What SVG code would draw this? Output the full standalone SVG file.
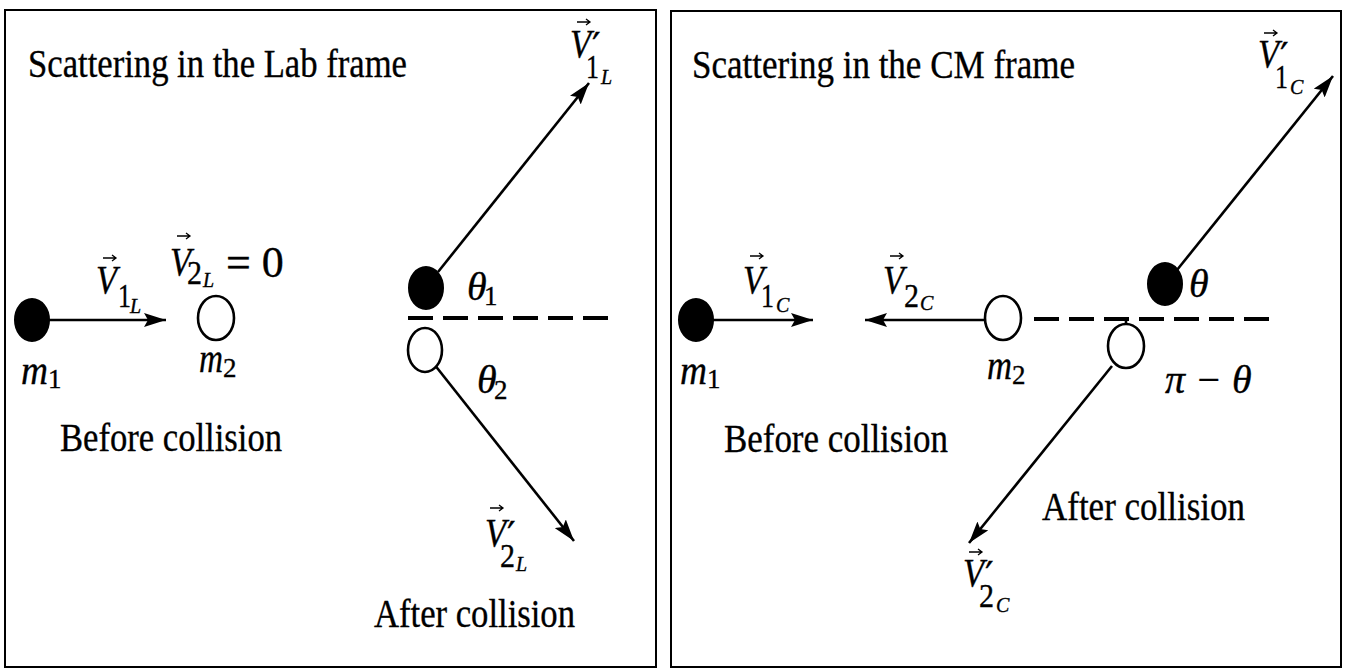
<svg xmlns="http://www.w3.org/2000/svg" width="1349" height="669" viewBox="0 0 1349 669" font-family="'Liberation Serif', 'DejaVu Serif', 'Times New Roman', serif">
<defs>
<marker id="ah" viewBox="0 0 22 14" refX="22" refY="7" markerWidth="22" markerHeight="14" markerUnits="userSpaceOnUse" orient="auto">
<path d="M0,0 L22,7 L0,14 L4,7 z" fill="#000"/>
</marker>
<style>
.frame{fill:none;stroke:#000;stroke-width:2}
text{font-family:'Liberation Serif','DejaVu Serif','Times New Roman',serif;fill:#000;stroke:#000;stroke-width:0.35}
.big{font-size:40px}
.mi{font-size:40px;font-style:italic}
.sb{font-size:34px}
.sm{font-size:27px}
.ss{font-size:20px;font-style:italic}
.pr{font-size:38px;font-family:'DejaVu Serif','Liberation Serif',serif}
.line{stroke:#000;stroke-width:2.6;fill:none}
.dash{stroke:#000;stroke-width:4;stroke-dasharray:25 10;fill:none}
.full{fill:#000;stroke:#000;stroke-width:2}
.open{fill:#fff;stroke:#000;stroke-width:2.6}
.vec{stroke:#000;stroke-width:1.3;fill:none}
</style>
</defs>
<rect width="1349" height="669" fill="#fff"/>

<g id="panel-lab">
<rect class="frame" x="5" y="10" width="651" height="657"/>
<text class="big" x="28" y="77" textLength="379" lengthAdjust="spacingAndGlyphs">Scattering in the Lab frame</text>
<text class="big" x="60" y="451" textLength="222" lengthAdjust="spacingAndGlyphs">Before collision</text>
<text class="big" x="374" y="627" textLength="201" lengthAdjust="spacingAndGlyphs">After collision</text>
</g>

<g id="panel-cm">
<rect class="frame" x="671" y="11" width="670" height="656"/>
<text class="big" x="692" y="78" textLength="383" lengthAdjust="spacingAndGlyphs">Scattering in the CM frame</text>
<text class="big" x="724" y="452" textLength="224" lengthAdjust="spacingAndGlyphs">Before collision</text>
<text class="big" x="1042" y="520" textLength="203" lengthAdjust="spacingAndGlyphs">After collision</text>
</g>

<g id="connectors">
<line class="line" x1="48" y1="320" x2="166" y2="320" marker-end="url(#ah)"/>
<line class="line" x1="438" y1="272" x2="589" y2="83" marker-end="url(#ah)"/>
<line class="line" x1="434" y1="364" x2="574" y2="541" marker-end="url(#ah)"/>
<line class="dash" x1="408" y1="318" x2="610" y2="318"/>
<line class="line" x1="712" y1="320" x2="813" y2="320" marker-end="url(#ah)"/>
<line class="line" x1="985" y1="320" x2="865" y2="320" marker-end="url(#ah)"/>
<line class="dash" x1="1034" y1="319" x2="1272" y2="319"/>
<line class="line" x1="1126" y1="319" x2="1126" y2="324"/>
<line class="line" x1="1177" y1="270" x2="1333" y2="76" marker-end="url(#ah)"/>
<line class="line" x1="1112" y1="366" x2="969" y2="543" marker-end="url(#ah)"/>
</g>

<g id="lab-m1-before">
<ellipse class="full" cx="32" cy="320" rx="17" ry="21"/>
<text class="mi" x="21" y="384" textLength="27" lengthAdjust="spacingAndGlyphs">m</text><text class="sm" x="48" y="388">1</text>
</g>
<g id="lab-m2-before">
<ellipse class="open" cx="216" cy="318" rx="18" ry="22"/>
<text class="mi" x="199" y="372" textLength="24" lengthAdjust="spacingAndGlyphs">m</text><text class="sm" x="223" y="377">2</text>
</g>
<g id="lab-v1-label">
<text class="mi" x="96" y="293" textLength="21" lengthAdjust="spacingAndGlyphs">V</text><text class="sb" x="118" y="307" textLength="13" lengthAdjust="spacingAndGlyphs">1</text><text class="ss" x="130" y="313">L</text>
<path class="vec" d="M103,258 H116 M112,255 L116,258 L112,261"/>
</g>
<g id="lab-v2-label">
<text class="mi" x="170" y="275" textLength="21" lengthAdjust="spacingAndGlyphs">V</text><text class="sb" x="187" y="284" textLength="15" lengthAdjust="spacingAndGlyphs">2</text><text class="ss" x="203" y="287">L</text>
<text class="big" x="226" y="277" style="font-size:44px">= 0</text>
<path class="vec" d="M177,236 H190 M186,233 L190,236 L186,239"/>
</g>
<g id="lab-m1-after">
<ellipse class="full" cx="426" cy="288" rx="17" ry="21"/>
<text class="mi" x="467" y="300">θ</text><text class="sm" x="484" y="305">1</text>
</g>
<g id="lab-m2-after">
<ellipse class="open" cx="425" cy="350" rx="17" ry="22"/>
<text class="mi" x="477" y="393">θ</text><text class="sm" x="494" y="399">2</text>
</g>
<g id="lab-v1p-label">
<text class="mi" x="570" y="57" textLength="21" lengthAdjust="spacingAndGlyphs">V</text><text class="pr" x="592" y="59">′</text><text class="sb" x="586" y="78" textLength="13" lengthAdjust="spacingAndGlyphs">1</text><text class="ss" x="601" y="84">L</text>
<path class="vec" d="M577,22 H590 M586,19 L590,22 L586,25"/>
</g>
<g id="lab-v2p-label">
<text class="mi" x="485" y="546" textLength="21" lengthAdjust="spacingAndGlyphs">V</text><text class="pr" x="507" y="548">′</text><text class="sb" x="500" y="567" textLength="15" lengthAdjust="spacingAndGlyphs">2</text><text class="ss" x="516" y="571">L</text>
<path class="vec" d="M490,508 H503 M499,505 L503,508 L499,511"/>
</g>

<g id="cm-m1-before">
<ellipse class="full" cx="696" cy="320" rx="17" ry="21"/>
<text class="mi" x="680" y="384" textLength="27" lengthAdjust="spacingAndGlyphs">m</text><text class="sm" x="707" y="388">1</text>
</g>
<g id="cm-m2-before">
<ellipse class="open" cx="1003" cy="318" rx="18" ry="22"/>
<text class="mi" x="987" y="379" textLength="25" lengthAdjust="spacingAndGlyphs">m</text><text class="sm" x="1012" y="384">2</text>
</g>
<g id="cm-v1-label">
<text class="mi" x="743" y="293" textLength="21" lengthAdjust="spacingAndGlyphs">V</text><text class="sb" x="761" y="307" textLength="13" lengthAdjust="spacingAndGlyphs">1</text><text class="ss" x="776" y="312">C</text>
<path class="vec" d="M750,256 H763 M759,253 L763,256 L759,259"/>
</g>
<g id="cm-v2-label">
<text class="mi" x="883" y="293" textLength="21" lengthAdjust="spacingAndGlyphs">V</text><text class="sb" x="904" y="307" textLength="15" lengthAdjust="spacingAndGlyphs">2</text><text class="ss" x="920" y="310">C</text>
<path class="vec" d="M890,256 H903 M899,253 L903,256 L899,259"/>
</g>
<g id="cm-m1-after">
<ellipse class="full" cx="1165" cy="284" rx="17" ry="21"/>
<text class="mi" x="1189" y="297">θ</text>
</g>
<g id="cm-m2-after">
<ellipse class="open" cx="1126" cy="346" rx="18" ry="22"/>
<text class="mi" x="1165" y="393">π − θ</text>
</g>
<g id="cm-v1p-label">
<text class="mi" x="1258" y="67" textLength="21" lengthAdjust="spacingAndGlyphs">V</text><text class="pr" x="1280" y="69">′</text><text class="sb" x="1275" y="88" textLength="13" lengthAdjust="spacingAndGlyphs">1</text><text class="ss" x="1290" y="94">C</text>
<path class="vec" d="M1264,33 H1277 M1273,30 L1277,33 L1273,36"/>
</g>
<g id="cm-v2p-label">
<text class="mi" x="963" y="586" textLength="21" lengthAdjust="spacingAndGlyphs">V</text><text class="pr" x="985" y="588">′</text><text class="sb" x="979" y="607" textLength="15" lengthAdjust="spacingAndGlyphs">2</text><text class="ss" x="996" y="612">C</text>
<path class="vec" d="M969,552 H982 M978,549 L982,552 L978,555"/>
</g>
</svg>
